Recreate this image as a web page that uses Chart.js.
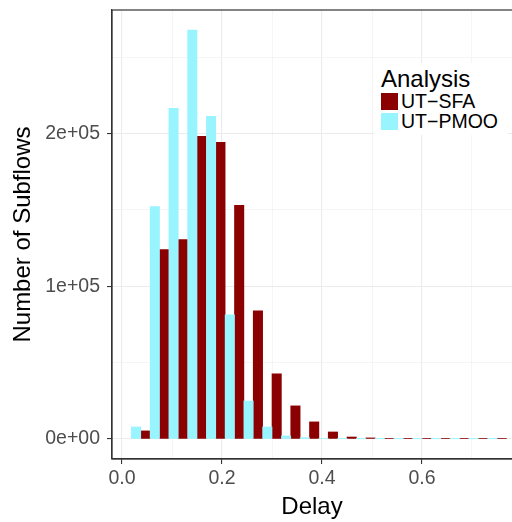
<!DOCTYPE html>
<html>
<head>
<meta charset="utf-8">
<script src="https://cdn.jsdelivr.net/npm/chart.js@4"></script>
<style>
  body { margin: 0; background: #fff; }
  #wrap { position: relative; width: 512px; height: 522px; }
  #legend {
    position: absolute; left: 374px; top: 63px; width: 134px; height: 72px;
    background: #fff; font-family: "Liberation Sans", Arial, sans-serif; color: #000;
  }
  #legend .ttl { position: absolute; left: 7px; top: 2px; font-size: 24px; line-height: 28px; }
  #legend .item { position: absolute; left: 7px; font-size: 19.5px; line-height: 17px; white-space: nowrap; }
  #legend .key { display: inline-block; width: 17px; height: 17px; vertical-align: top; margin-right: 3px; }
</style>
</head>
<body>
<div id="wrap">
  <canvas id="chart" width="512" height="522"></canvas>
  <div id="legend">
    <div class="ttl">Analysis</div>
    <div class="item" style="top:30px"><span class="key" style="background:#8B0000"></span>UT−SFA</div>
    <div class="item" style="top:50px"><span class="key" style="background:#98F5FF"></span>UT−PMOO</div>
  </div>
</div>
<script>
// bin centres (Delay) and counts per analysis
const binCenters = [0.0375, 0.075, 0.1125, 0.15, 0.1875, 0.225, 0.2625, 0.3, 0.3375, 0.375,
  0.4125, 0.45, 0.4875, 0.525, 0.5625, 0.6, 0.6375, 0.675, 0.7125, 0.75];
const pmooCounts = [7900, 152300, 216600, 267800, 211400, 81400, 24900, 7900, 2000, 900,
  300, 200, 150, 150, 150, 150, 150, 150, 150, 150];
const sfaCounts = [5300, 124100, 130600, 198200, 194300, 153000, 84000, 42700, 21700, 11200,
  4600, 1300, 700, 450, 450, 450, 450, 450, 450, 450];
const xTicks = [0, 0.1, 0.2, 0.3, 0.4, 0.5, 0.6, 0.7];
const yTicks = [0, 50000, 100000, 150000, 200000, 250000];

const FONT = '"Liberation Sans", Arial, sans-serif';

function tickVal(c) { return c.tick ? c.tick.value : 0; }
function isMajorX(v) { return Math.abs(Math.round(v * 10) % 2) === 0; }
function isMajorY(v) { return v % 100000 === 0; }

function sciLabel(v) {
  if (v === 0) return '0e+00';
  const exp = Math.floor(Math.log10(v));
  const mant = v / Math.pow(10, exp);
  return mant + 'e+' + String(exp).padStart(2, '0');
}

const panelBorder = {
  id: 'panelBorder',
  afterDraw(chart) {
    const { ctx, chartArea: a } = chart;
    ctx.save();
    ctx.strokeStyle = '#333333';
    ctx.lineWidth = 1.2;
    ctx.strokeRect(a.left, a.top, a.right - a.left + 5, a.bottom - a.top);
    ctx.restore();
  }
};

function toPoints(values) {
  return values.map((v, i) => ({ x: binCenters[i], y: v }));
}

new Chart(document.getElementById('chart'), {
  type: 'bar',
  data: {
    datasets: [
      { label: 'UT−PMOO', data: toPoints(pmooCounts), backgroundColor: '#98F5FF' },
      { label: 'UT−SFA', data: toPoints(sfaCounts), backgroundColor: '#8B0000' }
    ]
  },
  options: {
    responsive: false,
    animation: false,
    layout: { padding: { top: 10, right: 0, left: 0, bottom: 0 } },
    datasets: { bar: { categoryPercentage: 1, barPercentage: 1 } },
    plugins: { legend: { display: false }, tooltip: { enabled: false } },
    scales: {
      x: {
        type: 'linear',
        offset: false,
        min: -0.02,
        max: 0.78,
        afterBuildTicks: (s) => { s.ticks = xTicks.map((v) => ({ value: v })); },
        afterFit: (s) => { s.height = 63; s.paddingLeft = 0; s.paddingRight = 0; },
        grid: {
          offset: false,
          color: (c) => isMajorX(tickVal(c)) ? '#ebebeb' : '#f3f3f3',
          lineWidth: (c) => isMajorX(tickVal(c)) ? 1.1 : 0.8,
          tickColor: (c) => isMajorX(tickVal(c)) ? '#333333' : 'rgba(0,0,0,0)',
          tickLength: 5
        },
        border: { color: '#333333', width: 1.2 },
        ticks: {
          autoSkip: false,
          maxRotation: 0,
          padding: 3,
          color: '#4d4d4d',
          font: { family: FONT, size: 19.5 },
          callback: (v) => isMajorX(v) ? v.toFixed(1) : ''
        },
        title: { display: true, text: 'Delay', color: '#000', font: { family: FONT, size: 24 }, padding: { top: 1, bottom: 0 } }
      },
      y: {
        min: -13100,
        max: 281000,
        afterBuildTicks: (s) => { s.ticks = yTicks.map((v) => ({ value: v })); },
        afterFit: (s) => { s.width = 112; s.paddingTop = 0; s.paddingBottom = 0; },
        grid: {
          color: (c) => isMajorY(tickVal(c)) ? '#ebebeb' : '#f3f3f3',
          lineWidth: (c) => isMajorY(tickVal(c)) ? 1.1 : 0.8,
          tickColor: (c) => isMajorY(tickVal(c)) ? '#333333' : 'rgba(0,0,0,0)',
          tickLength: 5
        },
        border: { color: '#333333', width: 1.2 },
        ticks: {
          autoSkip: false,
          padding: 7,
          color: '#4d4d4d',
          font: { family: FONT, size: 19.5 },
          callback: (v) => isMajorY(v) ? sciLabel(v) : ''
        },
        title: { display: true, text: 'Number of Subflows', color: '#000', font: { family: FONT, size: 24 }, padding: { top: 9, bottom: 0 } }
      }
    }
  },
  plugins: [panelBorder]
});
</script>
</body>
</html>
